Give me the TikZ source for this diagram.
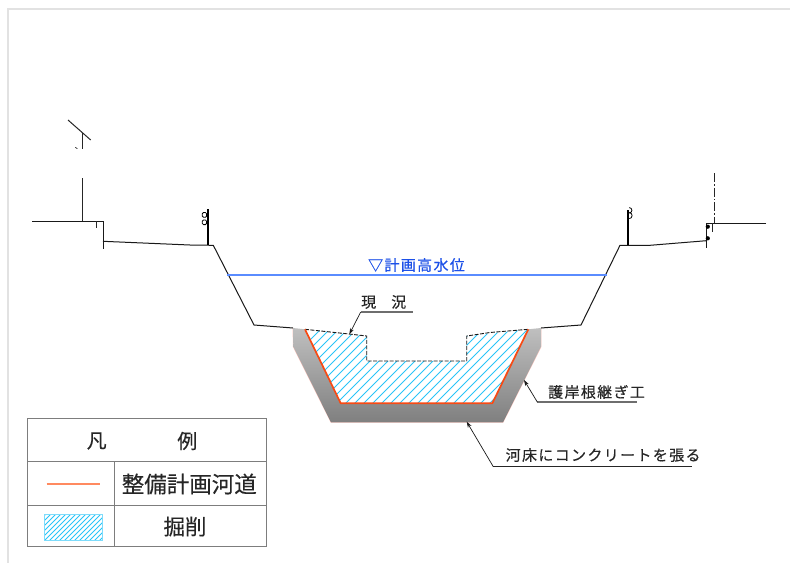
\documentclass[tikz,border=0pt]{standalone}
\usepackage{fontspec}
\setmainfont[FakeBold=0.25]{Noto Sans CJK JP}
\newfontfamily\jpl[LetterSpace=9,FakeBold=0.3]{Noto Sans CJK JP}
\usetikzlibrary{arrows.meta}
\definecolor{framegray}{HTML}{E2E2E2}
\definecolor{hatchblue}{HTML}{28C4F8}
\definecolor{cutred}{HTML}{F84A14}
\definecolor{legendorange}{HTML}{FF8A60}
\definecolor{waterblue}{HTML}{5A8CFF}
\definecolor{watertext}{HTML}{1C50E8}
\definecolor{pinkedge}{HTML}{FFC4BC}
\definecolor{linegray}{HTML}{6E6E6E}
\tikzset{
  ground/.style={draw=black!90,line width=1pt},
  postline/.style={draw=black,line width=1.7pt},
  thinline/.style={draw=black!85,line width=1pt},
  insul/.style={draw=black,line width=0.8pt,rounded corners=1.2pt},
  leader/.style={draw=black!90,line width=0.7pt,-{Stealth[length=6pt,width=4pt]}},
  underl/.style={draw=linegray,line width=1.1pt},
  labeltxt/.style={inner sep=0pt,text=black!85,font=\fontsize{15}{16}\selectfont\jpl},
  legtxt/.style={inner sep=0pt,text=black!85,font=\fontsize{20}{22}\selectfont},
  legline/.style={draw=linegray!90,line width=1pt},
  hatchl/.style={draw=hatchblue,line width=0.9pt},
}
\begin{document}
\begin{tikzpicture}[x=1pt,y=-1pt]
\useasboundingbox (0,0) rectangle (790,563);
\fill[white] (0,0) rectangle (790,563);
% page frame
\draw[framegray,line width=2pt] (8,563) -- (8,9) -- (790,9);

% concrete lining
\coordinate (ol1) at (293,328);
\coordinate (ol2) at (293.3,346.7);
\coordinate (ol3) at (331,422.3);
\coordinate (or3) at (503,422.3);
\coordinate (or2) at (541,346.7);
\coordinate (or1) at (541,328);
\coordinate (il1) at (305,329.3);
\coordinate (il2) at (340.7,403.3);
\coordinate (ir2) at (492.3,403.3);
\coordinate (ir1) at (528.3,329.3);
\draw[pinkedge,line width=0.8pt] (ol1) -- (ol2) -- (ol3) -- (or3) -- (or2) -- (or1);
\path[top color=black!25,bottom color=black!50,shading angle=0]
  (ol1) -- (ol2) -- (ol3) -- (or3) -- (or2) -- (or1) -- (ir1) -- (ir2) -- (il2) -- (il1) -- cycle;

% excavation hatching
\coordinate (h1) at (366.7,336);
\coordinate (h2) at (366.7,361);
\coordinate (h3) at (466.7,361);
\coordinate (h4) at (466.7,336);
\begin{scope}
  \clip (il1) -- (il2) -- (ir2) -- (ir1) -- (h4) -- (h3) -- (h2) -- (h1) -- cycle;
  \foreach \x in {230,239,...,560}
    \draw[hatchl] (\x,420) -- (\x+100,320);
\end{scope}
\draw[black!90,line width=0.9pt,dash pattern=on 4pt off 1.5pt]
  (il1) -- (349,334) -- (h1) -- (h2) -- (h3) -- (h4) -- (490,332.5) -- (ir1);
\draw[cutred,line width=1.7pt,line join=round] (il1) -- (il2) -- (ir2) -- (ir1);

% left bank
\draw[ground] (32,221) -- (103,221) -- (103,249);
\draw[ground] (103,241.3) -- (190,245) -- (213.3,245.3) -- (254,325) -- (ol1);
\draw[thinline] (96,221) -- (96,228.3);
\draw[thinline] (82.3,178.3) -- (82.3,221);
\draw[thinline] (82.3,133.3) -- (82.3,149);
\draw[thinline] (68,120) -- (90.7,140);
\draw[thinline,line width=0.7pt] (75.3,147.3) -- (77.3,148.7);
\draw[postline] (207.7,209.3) -- (207.7,245.3);
\draw[insul] (202.3,212.5) rectangle (206.6,217.3);
\draw[insul] (202.3,220) rectangle (206.6,224.6);

% right bank
\draw[ground] (766,223.3) -- (706.3,223.3) -- (706.3,247.7);
\draw[ground] (706.3,240.7) -- (650,245.3) -- (620,245.3) -- (581,325) -- (or1);
\draw[thinline] (712.7,223.3) -- (712.7,231.7);
\draw[thinline,dash pattern=on 9pt off 2pt on 1.5pt off 2pt] (714.3,173.3) -- (714.3,223.3);
\draw[postline] (628.3,210) -- (628.3,245.3);
\draw[insul] (629.3,213) arc (90:-90:2.6 and 2.7);
\draw[insul] (629.3,218.6) arc (90:-90:2.8 and 3);
\fill[black] (707.8,226.7) circle (2.1);
\fill[black] (707.8,238.3) circle (2.1);

% water level
\draw[waterblue,line width=1.1pt] (227,275) -- (607,275);
\node[inner sep=0pt,text=watertext,font=\fontsize{15}{16}\selectfont\jpl] (wl) at (416.5,265) {▽計画高水位};

% leaders
\node[labeltxt,anchor=west] (genjo) at (361,302) {現\hspace{1.0em}況};
\coordinate (g1) at (412.7,312);
\coordinate (g2) at (360.7,312);
\coordinate (g3) at (349.3,334.3);
\draw[underl] (g1) -- (g2);
\draw[leader] (g2) -- (g3);

\node[labeltxt,anchor=west] (goga) at (548,392) {護岸根継ぎ工};
\coordinate (k1) at (636.7,402);
\coordinate (k2) at (537.3,402);
\coordinate (k3) at (524,380);
\draw[underl] (k1) -- (k2);
\draw[leader] (k2) -- (k3);

\node[labeltxt,anchor=west] (kasho) at (505.5,455) {河床にコンクリートを張る};
\coordinate (b1) at (691.7,466.7);
\coordinate (b2) at (493.3,466.7);
\coordinate (b3) at (466.7,421.7);
\draw[underl,draw=black!85] (b1) -- (b2);
\draw[leader] (b2) -- (b3);

% legend
\draw[legline] (27.7,418.3) rectangle (266,546);
\draw[legline] (27.7,461.7) -- (266,461.7);
\draw[legline] (27.7,505) -- (266,505);
\draw[legline] (114.3,461.7) -- (114.3,546);
\node[legtxt] (lg1) at (96.7,441) {凡};
\node[legtxt] (lg2) at (187.3,441) {例};
\draw[legendorange,line width=1.7pt] (46.7,484) -- (100,484);
\node[legtxt,font=\fontsize{22.5}{23}\selectfont] (lg3) at (189.3,484) {整備計画河道};
\begin{scope}
  \clip (44,514) rectangle (102.3,540);
  \foreach \x in {0,5,...,110}
    \draw[hatchl,line width=1pt] (\x,550) -- (\x+45,505);
\end{scope}
\draw[hatchblue!60,line width=0.9pt] (44,514) rectangle (102.3,540);
\node[legtxt,font=\fontsize{21.5}{22}\selectfont] (lg4) at (185,526.5) {掘削};
\end{tikzpicture}
\end{document}
